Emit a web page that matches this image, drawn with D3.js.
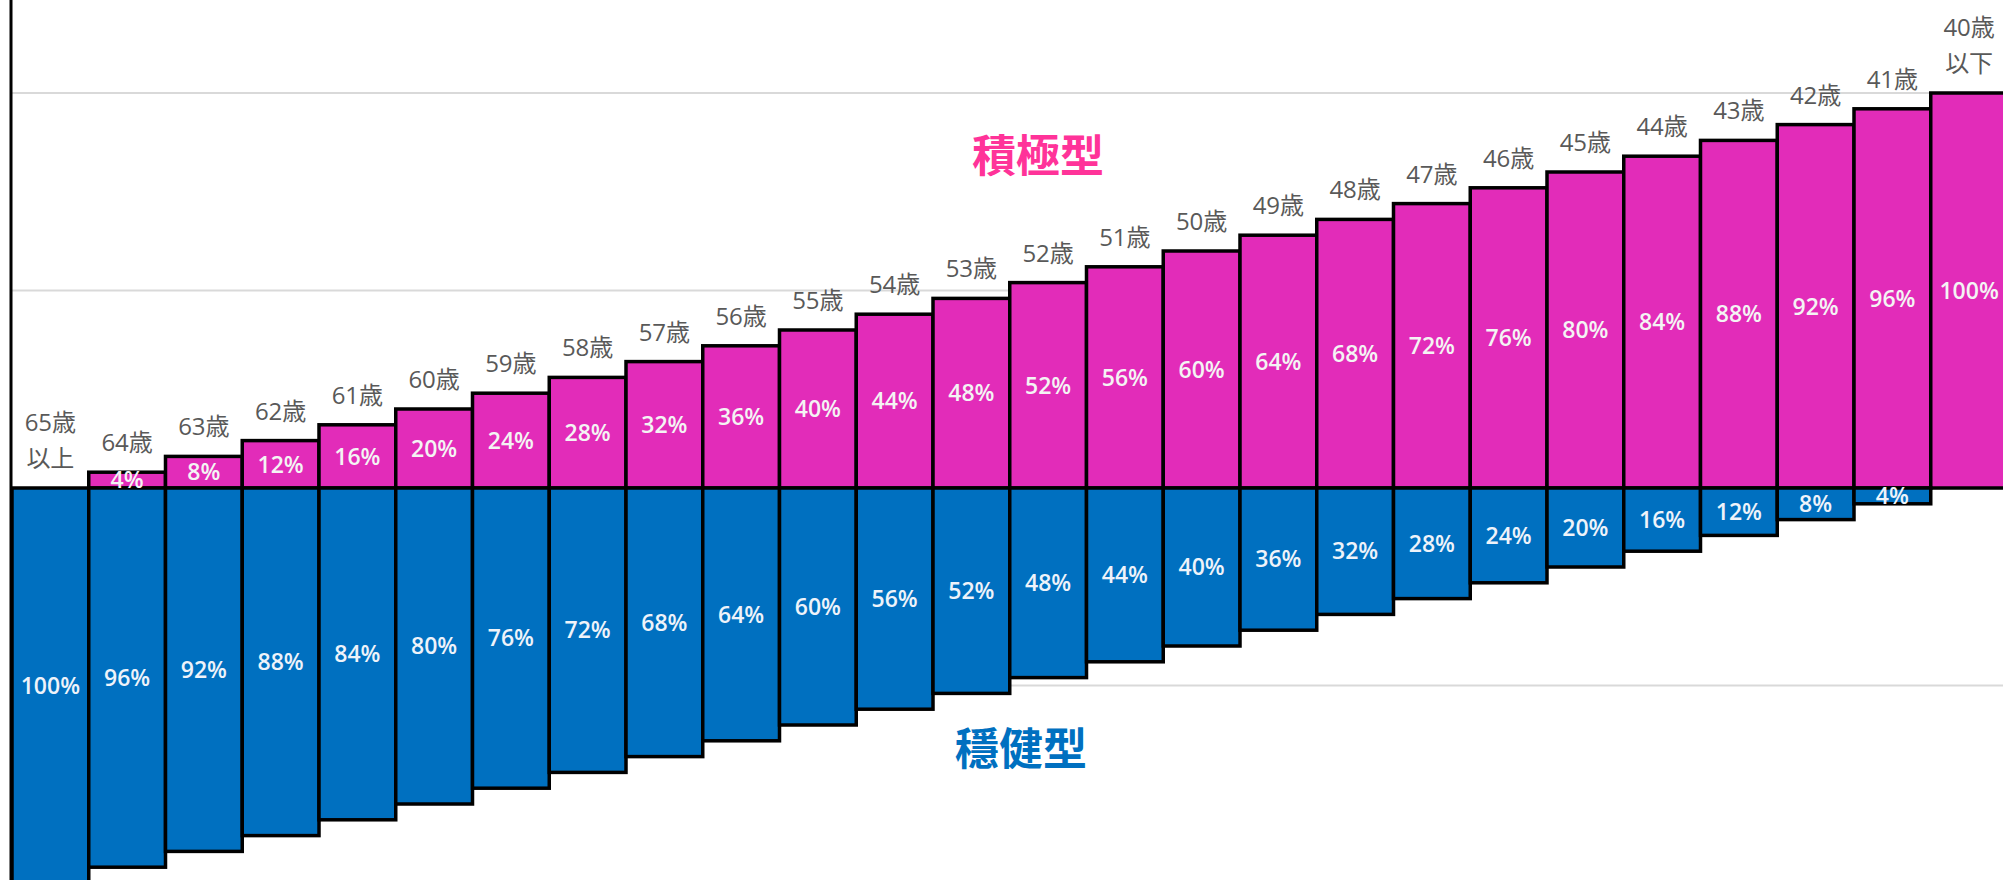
<!DOCTYPE html>
<html>
<head>
<meta charset="utf-8">
<script src="https://cdnjs.cloudflare.com/ajax/libs/d3/7.8.5/d3.min.js"></script>
<style>
  body { margin: 0; background: #fff; }
  svg { display: block; }
</style>
</head>
<body>
<svg id="chart" width="2003" height="880"></svg>
<script>
// age groups, from oldest to youngest
var categories = ["65歳以上", "64歳", "63歳", "62歳", "61歳", "60歳", "59歳", "58歳", "57歳", "56歳",
  "55歳", "54歳", "53歳", "52歳", "51歳", "50歳", "49歳", "48歳", "47歳", "46歳",
  "45歳", "44歳", "43歳", "42歳", "41歳", "40歳以下"];
// 積極型 share (%)
var aggressive = [0, 4, 8, 12, 16, 20, 24, 28, 32, 36, 40, 44, 48, 52, 56, 60, 64, 68, 72, 76, 80, 84, 88, 92, 96, 100];
// 穩健型 share (%)
var steady = [100, 96, 92, 88, 84, 80, 76, 72, 68, 64, 60, 56, 52, 48, 44, 40, 36, 32, 28, 24, 20, 16, 12, 8, 4, 0];
var gridTicks = [100, 50, -50, -100];

var svg = d3.select("#chart");

var x = d3.scaleBand().domain(categories).range([12, 2007.5]).padding(0);
var y = d3.scaleLinear().domain([-100, 100]).range([883, 93]);

var labelFont = "'Open Sans', 'Noto Sans CJK TC', sans-serif";

// gridlines
svg.append("g").selectAll("line").data(gridTicks).enter().append("line")
    .attr("x1", 12).attr("x2", 2003)
    .attr("y1", d => y(d)).attr("y2", d => y(d))
    .attr("stroke", "#d9d9d9").attr("stroke-width", 2);

// axis line
svg.append("line")
    .attr("x1", 11).attr("x2", 11).attr("y1", 0).attr("y2", 880)
    .attr("stroke", "#000").attr("stroke-width", 3);

var rows = categories.map((c, i) => ({ cat: c, up: aggressive[i], down: steady[i] }));

// 積極型 bars
svg.append("g").selectAll("rect").data(rows.filter(d => d.up > 0)).enter().append("rect")
    .attr("x", d => x(d.cat)).attr("width", x.bandwidth())
    .attr("y", d => y(d.up)).attr("height", d => y(0) - y(d.up))
    .attr("fill", "#e22cb9").attr("stroke", "#000").attr("stroke-width", 3.5);

// 穩健型 bars
svg.append("g").selectAll("rect").data(rows.filter(d => d.down > 0)).enter().append("rect")
    .attr("x", d => x(d.cat)).attr("width", x.bandwidth())
    .attr("y", y(0)).attr("height", d => y(-d.down) - y(0))
    .attr("fill", "#0070c0").attr("stroke", "#000").attr("stroke-width", 3.5);

// percentage labels
svg.append("g").selectAll("text").data(rows.filter(d => d.up > 0)).enter().append("text")
    .attr("x", d => x(d.cat) + x.bandwidth() / 2)
    .attr("y", d => (y(d.up) + y(0)) / 2)
    .attr("dy", "0.36em").attr("text-anchor", "middle")
    .style("font-family", labelFont).style("font-size", "23px").style("font-weight", 600)
    .attr("fill", "#f4f4f4")
    .text(d => d.up + "%");

svg.append("g").selectAll("text").data(rows.filter(d => d.down > 0)).enter().append("text")
    .attr("x", d => x(d.cat) + x.bandwidth() / 2)
    .attr("y", d => (y(-d.down) + y(0)) / 2)
    .attr("dy", "0.36em").attr("text-anchor", "middle")
    .style("font-family", labelFont).style("font-size", "23px").style("font-weight", 600)
    .attr("fill", "#eef3fa")
    .text(d => d.down + "%");

// age labels above bars
var ages = svg.append("g").selectAll("text").data(rows).enter().append("text")
    .attr("text-anchor", "middle")
    .style("font-family", labelFont).style("font-size", "24px")
    .attr("fill", "#595959");
ages.each(function (d) {
    var lines = d.cat.replace(/歳(以.)$/, "歳\n$1").split("\n");
    var t = d3.select(this);
    var cx = x(d.cat) + x.bandwidth() / 2;
    var base = y(d.up) - 21;
    lines.forEach(function (l, j) {
        t.append("tspan").attr("x", cx)
            .attr("y", base - (lines.length - 1 - j) * 36)
            .text(l);
    });
});

// series titles
svg.append("text").attr("x", 1038).attr("y", 172).attr("text-anchor", "middle")
    .style("font-family", "'Noto Sans CJK TC', sans-serif").style("font-size", "44px").style("font-weight", 700)
    .attr("fill", "#ff3399").text("積極型");
svg.append("text").attr("x", 1021).attr("y", 765).attr("text-anchor", "middle")
    .style("font-family", "'Noto Sans CJK TC', sans-serif").style("font-size", "44px").style("font-weight", 700)
    .attr("fill", "#0070c0").text("穩健型");
</script>
</body>
</html>
